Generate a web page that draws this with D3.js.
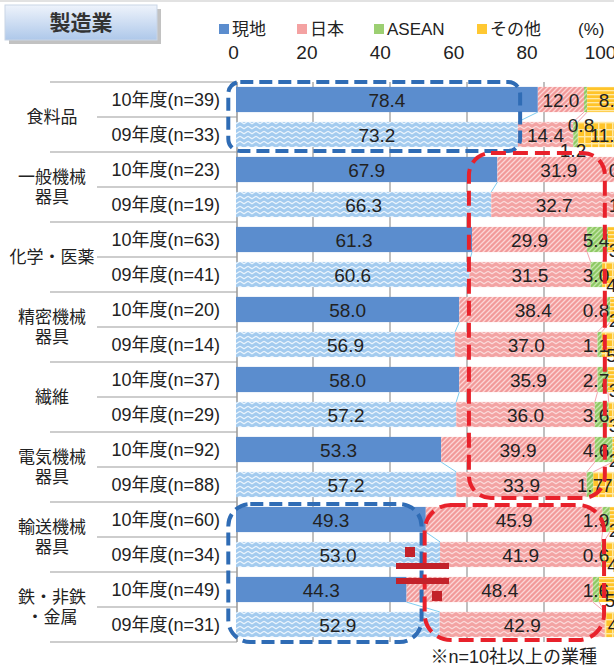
<!DOCTYPE html>
<html><head><meta charset="utf-8">
<script src="https://cdn.jsdelivr.net/npm/d3@7"></script>
<style>
html,body{margin:0;padding:0;background:#fff;}
svg{display:block;font-family:"Liberation Sans","Noto Sans CJK JP",Arial,sans-serif;}
</style></head>
<body>
<svg id="c" width="614" height="666"></svg>
<script>
// ---- data ----
const groupLabels = [["食料品"],["一般機械","器具"],["化学・医薬"],["精密機械","器具"],["繊維"],["電気機械","器具"],["輸送機械","器具"],["鉄・非鉄","・金属"]];
const rowLabels = ["10年度(n=39)","09年度(n=33)","10年度(n=23)","09年度(n=19)","10年度(n=63)","09年度(n=41)","10年度(n=20)","09年度(n=14)","10年度(n=37)","09年度(n=29)","10年度(n=92)","09年度(n=88)","10年度(n=60)","09年度(n=34)","10年度(n=49)","09年度(n=31)"];
const local = [78.4,73.2,67.9,66.3,61.3,60.6,58.0,56.9,58.0,57.2,53.3,57.2,49.3,53.0,44.3,52.9];
const japan = [12.0,14.4,31.9,32.7,29.9,31.5,38.4,37.0,35.9,36.0,39.9,33.9,45.9,41.9,48.4,42.9];
const asean = [0.8,1.2,0.0,0.0,5.4,3.0,0.8,1.1,2.7,3.6,4.6,1.7,1.9,0.6,1.6,0.0];
const other = [8.8,11.2,0.2,1.0,3.4,4.9,2.8,5.0,3.4,3.2,2.2,7.2,2.9,4.5,5.7,4.2];
const seriesNames = ["現地","日本","ASEAN","その他"];
const tickValues = [0,20,40,60,80,100];
const title = "製造業";
const footnote = "※n=10社以上の業種";

const svg = d3.select("#c");
const defs = svg.append("defs");
const BLUE="#5b8dce", PINK="#f4a2a2", GREEN="#9ccf72", YELLOW="#ffc832";

// patterns
function pat(id,w,h,bg,draw){
  const p=defs.append("pattern").attr("id",id).attr("patternUnits","userSpaceOnUse").attr("width",w).attr("height",h);
  p.append("rect").attr("width",w).attr("height",h).attr("fill",bg);
  draw(p);
}
pat("blueZig",8,5,"#a3cbef",p=>p.append("path").attr("d","M0,1.2 L4,3.8 L8,1.2").attr("fill","none").attr("stroke","#eaf4fd").attr("stroke-width",1.3));
pat("pinkZig",8,5,"#f3a3a3",p=>p.append("path").attr("d","M0,1.2 L4,3.8 L8,1.2").attr("fill","none").attr("stroke","#fbdada").attr("stroke-width",1.2));
pat("pinkDiag",5,5,"#f29a9a",p=>p.append("path").attr("d","M-1,6 L6,-1 M-1,1 L1,-1 M4,6 L6,4").attr("stroke","#fcd6d6").attr("stroke-width",1.3));
pat("greenDiag",5,5,"#8fc964",p=>p.append("path").attr("d","M-1,6 L6,-1 M-1,1 L1,-1 M4,6 L6,4").attr("stroke","#c4e6ab").attr("stroke-width",1.3));
pat("yelStripe",4,4,"#ffc42a",p=>p.append("rect").attr("y",2).attr("width",4).attr("height",1.3).attr("fill","#ffe9a6"));
pat("yelGrid",7,7,"#ffc42a",p=>{p.append("rect").attr("y",3).attr("width",7).attr("height",1.4).attr("fill","#ffe9a6");p.append("rect").attr("x",3).attr("width",1.4).attr("height",7).attr("fill","#ffe9a6");});
const grad=defs.append("linearGradient").attr("id","tg").attr("x1",0).attr("y1",0).attr("x2",0).attr("y2",1);
grad.append("stop").attr("offset","0%").attr("stop-color","#eef3fb");
grad.append("stop").attr("offset","100%").attr("stop-color","#aec8ea");

// scales
const x = d3.scaleLinear().domain([0,100]).range([236,621]);
const xt = d3.scaleLinear().domain([0,100]).range([233,600]);
const y = d3.scaleBand().domain(d3.range(rowLabels.length)).range([82,642]).paddingInner(0.28).paddingOuter(0.14);
const step = y.step();
const rowTop = i => 82 + i*step;

// top frame line
svg.append("line").attr("x1",0).attr("x2",614).attr("y1",1).attr("y2",1).attr("stroke","#e2e2e2").attr("stroke-width",2);

// title box
svg.append("rect").attr("x",9).attr("y",9).attr("width",152).attr("height",35).attr("fill","#9a9a9a").attr("opacity",0.6);
svg.append("rect").attr("x",5).attr("y",5).attr("width",152).attr("height",35).attr("fill","url(#tg)").attr("stroke","#c9d5e6").attr("stroke-width",1);
svg.append("text").attr("x",81).attr("y",30).attr("text-anchor","middle").attr("font-size",21).attr("font-weight","bold").attr("fill","#333").text(title);

// legend
const legX=[219,297,374,477], legFill=[BLUE,PINK,GREEN,YELLOW];
seriesNames.forEach((n,i)=>{
  svg.append("rect").attr("x",legX[i]).attr("y",24).attr("width",10).attr("height",10).attr("fill",legFill[i]);
  svg.append("text").attr("x",legX[i]+13).attr("y",35).attr("font-size",17).attr("fill","#222").text(n);
});
svg.append("text").attr("x",578).attr("y",35).attr("font-size",17).attr("fill","#222").text("(%)");

// tick labels
const axisG = svg.append("g").attr("transform","translate(0,59)")
  .call(d3.axisTop(xt).tickValues(tickValues).tickSize(0).tickPadding(0).tickFormat(d3.format("d")));
axisG.select(".domain").remove();
axisG.selectAll("text").attr("font-size",19).attr("fill","#222").attr("font-family","Liberation Sans, Arial, sans-serif");

// gridlines
svg.append("g").selectAll("line").data([20,40,60,80]).join("line")
  .attr("x1",d=>x(d)).attr("x2",d=>x(d)).attr("y1",82).attr("y2",642)
  .attr("stroke","#ababab").attr("stroke-width",1.5);

// label-area horizontal lines
const hl = svg.append("g").attr("stroke","#bdbdbd").attr("stroke-width",1.5);
for(let i=0;i<=rowLabels.length;i++){
  hl.append("line").attr("x1", i%2===0?50:97).attr("x2",237).attr("y1",rowTop(i)).attr("y2",rowTop(i));
}
svg.append("line").attr("x1",237).attr("x2",237).attr("y1",82).attr("y2",642).attr("stroke","#999").attr("stroke-width",1.5);

// row labels
svg.append("g").selectAll("text").data(rowLabels).join("text")
  .attr("x",220).attr("y",(d,i)=>y(i)+y.bandwidth()/2+6.5).attr("text-anchor","end")
  .attr("font-size",18).attr("fill","#222").text(d=>d);

// group labels
groupLabels.forEach((g,gi)=>{
  const cy = rowTop(gi*2)+step;
  g.forEach((ln,li)=>{
    const off = g.length===1?0:(li===0?-10:10);
    svg.append("text").attr("x",52).attr("y",cy+off+6).attr("text-anchor","middle")
      .attr("font-size",17).attr("fill","#222").text(ln);
  });
});

// stacked bars
const series=[local,japan,asean,other];
const fills=[[BLUE,"url(#blueZig)"],["url(#pinkDiag)","url(#pinkZig)"],["url(#greenDiag)","url(#greenDiag)"],["url(#yelStripe)","url(#yelGrid)"]];
const stack = rowLabels.map((_,i)=>{let c=0;return series.map(s=>{const a=c;c+=s[i];return [a,c];});});
const barG = svg.append("g");
rowLabels.forEach((_,i)=>{
  series.forEach((s,k)=>{
    const [a,b]=stack[i][k];
    if(b-a<=0) return;
    barG.append("rect").attr("x",x(a)).attr("y",y(i)).attr("width",x(b)-x(a)).attr("height",y.bandwidth())
      .attr("fill",fills[k][i%2]);
  });
});

// series lines (within each group)
const slColors=["#7fcdf0","#f4a6b0","#f4a6b0"];
for(let i=0;i<rowLabels.length;i+=2){
  [0,1,2].forEach(k=>{
    svg.append("line").attr("x1",x(stack[i][k][1])).attr("y1",y(i)+y.bandwidth())
      .attr("x2",x(stack[i+1][k][1])).attr("y2",y(i+1)).attr("stroke",slColors[k]).attr("stroke-width",1);
  });
}

// value labels
const lab = svg.append("g").attr("font-size",19).attr("fill","#222").attr("font-family","Liberation Sans, Arial, sans-serif");
rowLabels.forEach((_,i)=>{
  const cy = y(i)+y.bandwidth()/2+7;
  [0,1].forEach(k=>{
    const [a,b]=stack[i][k];
    lab.append("text").attr("x",(x(a)+x(b))/2).attr("y",cy).attr("text-anchor","middle").text(series[k][i].toFixed(1));
  });
  // ASEAN
  if(asean[i]>0){
    const [a,b]=stack[i][2];
    let lx=Math.min((x(a)+x(b))/2,596), ly=cy;
    if(i===0){lx=581; ly=y(i)+y.bandwidth()+20;}
    if(i===1){lx=573; ly=y(i)+y.bandwidth()+10;}
    lab.append("text").attr("x",lx).attr("y",ly).attr("text-anchor","middle").text(asean[i].toFixed(1));
  }
  // other
  {
    const [a,b]=stack[i][3];
    const lx=Math.min((x(a)+x(b))/2+8,622);
    const ly=cy+((other[i]<6 && asean[i]>0)?10:0);
    lab.append("text").attr("x",lx).attr("y",ly).attr("text-anchor","middle").text(other[i].toFixed(1));
  }
});

// dashed highlight boxes
const box=(x0,y0,x1,y1,r,c,dash)=>svg.append("rect").attr("x",x0).attr("y",y0).attr("width",x1-x0).attr("height",y1-y0)
  .attr("rx",r).attr("ry",r).attr("fill","none").attr("stroke",c).attr("stroke-width",4).attr("stroke-dasharray",dash);
box(x(-2),82,x(73.8),151,12,"#2f6cb5","13,6");
box(x(60.5),153,x(95.8),498,22,"#e8212b","15,7");
box(x(-2),504,x(48.2),642,22,"#2f6cb5","13,6");
box(x(49),505,x(95.6),640,26,"#e8212b","15,7");

// not-equal mark
const ne = svg.append("g").attr("fill","#c3222a");
ne.append("rect").attr("x",396).attr("y",563).attr("width",53).attr("height",6);
ne.append("rect").attr("x",396).attr("y",578).attr("width",53).attr("height",6);
ne.append("rect").attr("x",405).attr("y",547).attr("width",10).attr("height",10);
ne.append("rect").attr("x",432).attr("y",591).attr("width",10).attr("height",10);

// footnote
svg.append("text").attr("x",597).attr("y",663).attr("text-anchor","end").attr("font-size",18).attr("fill","#222").text(footnote);
</script>
</body></html>
